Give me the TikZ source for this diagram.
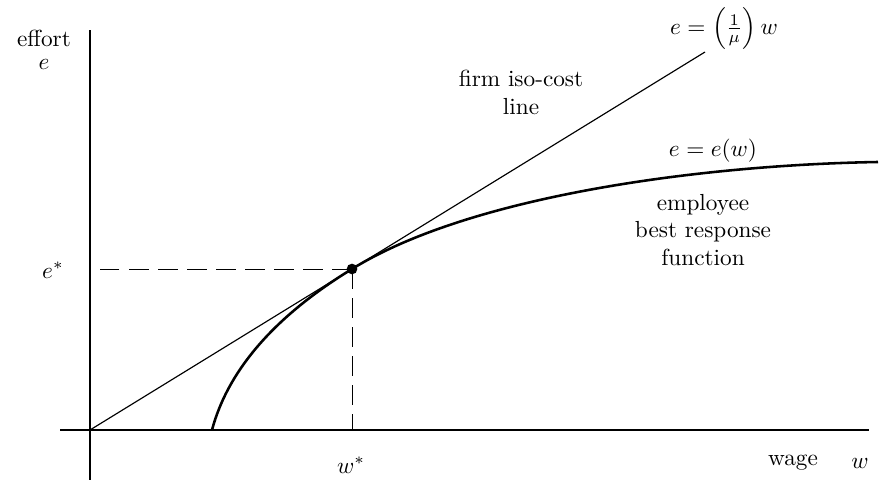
\documentclass[tikz,border=0pt]{standalone}
\usepackage{amsmath}
\usetikzlibrary{positioning, calc}

\begin{document}
\begin{tikzpicture}[
    x=0.43pt, y=-0.43pt,
    axis/.style={line width=0.45pt},
    isocost/.style={line width=0.5pt},
    response/.style={line width=1.1pt},
    guide/.style={line width=0.4pt, dash pattern=on 8.5pt off 4pt},
    tag/.style={align=center, inner sep=0pt},
]
\useasboundingbox (0,0) rectangle (881,482);

% axes
\coordinate (O) at (90,430);
\coordinate (ytop) at (90,30);
\coordinate (ybot) at (90,480);
\coordinate (xleft) at (60,430);
\coordinate (xright) at (869,430);
\draw[axis] (ybot) -- (ytop);
\draw[axis] (xleft) -- (xright);

% iso-cost line and best response
\coordinate (lineend) at (705,52);
\coordinate (wmin) at (212,430);
\coordinate (opt) at (352,269);
\coordinate (wend) at (878,162);
\draw[isocost] (O) -- (lineend);
\draw[response] (wmin) .. controls (228,370) and (275,316) .. (opt)
    .. controls (470,196) and (700,165) .. (wend);

% optimum
\draw[guide] (opt) -- (opt -| O);
\draw[guide] (opt) -- (opt |- O);
\fill (opt) circle (2.3pt);

% labels
\node[tag] (effort) at (44,50) {effort\\[-2pt]$e$};
\node[tag] (estar) at (53,270) {$e^*$};
\node[tag] (wstar) at (351,465) {$w^*$};
\node[tag] (wage) at (793,463) {wage};
\node[tag, right=14pt of wage.east, anchor=west] (wlab) {$w$};
\node[tag, anchor=north] (isoeq) at (724,7) {$e=\left(\frac{1}{\mu}\right)w$};
\node[tag] (isotxt) at (521,92) {firm iso-cost\\line};
\node[tag] (resp) at (713,151) {$e=e(w)$};
\node[tag] (resptxt) at (703,230) {employee\\best response\\function};

\end{tikzpicture}
\end{document}
